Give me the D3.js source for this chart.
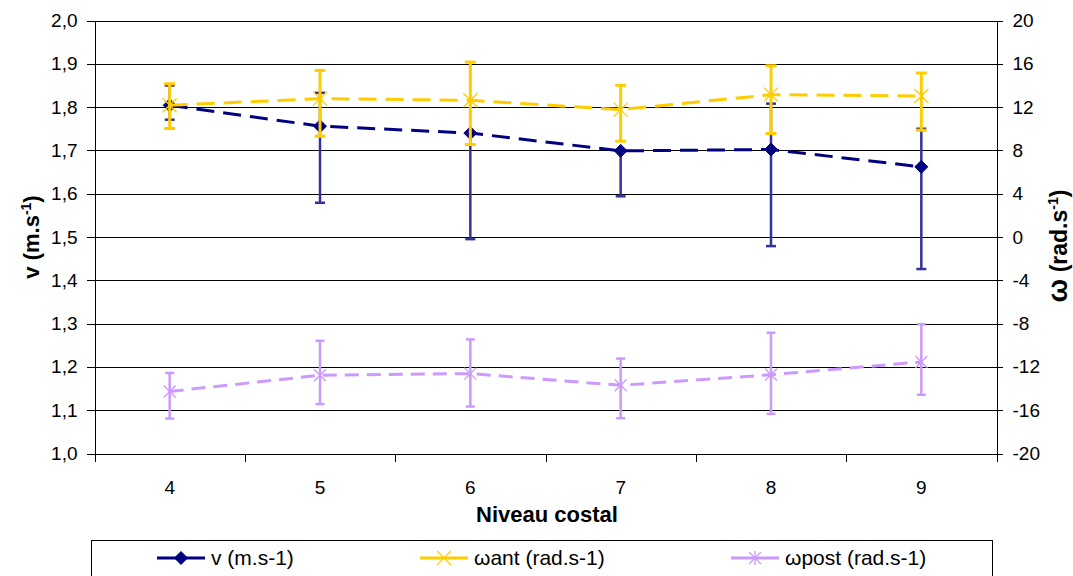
<!DOCTYPE html>
<html>
<head>
<meta charset="utf-8">
<script src="https://cdn.jsdelivr.net/npm/d3@7"></script>
<style>
  html, body { margin: 0; padding: 0; background: #fff; }
  svg { display: block; font-family: "Liberation Sans", Arial, sans-serif; }
</style>
</head>
<body>
<svg id="chart" width="1073" height="576"></svg>
<script>
// ---- data ----
const categories = ["4", "5", "6", "7", "8", "9"];
const vMean = [1.804, 1.756, 1.740, 1.699, 1.702, 1.662];
const vHigh = [1.850, 1.833, 1.740, 1.699, 1.808, 1.750];
const vLow  = [1.771, 1.579, 1.495, 1.594, 1.479, 1.426];
const antMean = [12.17, 12.78, 12.63, 11.77, 13.15, 13.03];
const antHigh = [14.16, 15.39, 16.16, 14.01, 15.82, 15.15];
const antLow  = [10.02, 9.31, 8.54, 8.85, 9.56, 9.86];
const postMean = [-14.27, -12.77, -12.62, -13.70, -12.72, -11.54];
const postHigh = [-12.56, -9.59, -9.46, -11.23, -8.84, -8.06];
const postLow  = [-16.77, -15.44, -15.66, -16.74, -16.34, -14.57];
const leftTicks = [1.0, 1.1, 1.2, 1.3, 1.4, 1.5, 1.6, 1.7, 1.8, 1.9, 2.0];
const rightTicks = [-20, -16, -12, -8, -4, 0, 4, 8, 12, 16, 20];
const legendLabels = ["v (m.s-1)", "\u03c9ant (rad.s-1)", "\u03c9post (rad.s-1)"];

// ---- layout ----
const L = 94.5, R = 996.5, T = 20.5, B = 453.5;
const svg = d3.select("#chart");

const x = d3.scaleBand().domain(categories).range([L, R]).padding(0);
const cx = c => x(c) + x.bandwidth() / 2;
const yL = d3.scaleLinear().domain([1.0, 2.0]).range([B, T]);
const yR = d3.scaleLinear().domain([-20, 20]).range([B, T]);

// gridlines
svg.append("g").selectAll("line").data(leftTicks.filter(d => d > 1.0)).join("line")
  .attr("x1", L).attr("x2", R)
  .attr("y1", d => Math.round(yL(d)) + 0.5).attr("y2", d => Math.round(yL(d)) + 0.5)
  .attr("stroke", "#000").attr("stroke-width", 1).attr("shape-rendering", "crispEdges");

// left axis
const gL = svg.append("g").attr("transform", `translate(${L},0)`)
  .call(d3.axisLeft(yL).tickValues(leftTicks).tickSize(8).tickPadding(9)
    .tickFormat(d => d3.format(".1f")(d).replace(".", ",")));
// right axis
const gR = svg.append("g").attr("transform", `translate(${R},0)`)
  .call(d3.axisRight(yR).tickValues(rightTicks).tickSize(6).tickPadding(10)
    .tickFormat(d => d < 0 ? "-" + Math.abs(d) : String(d)));
// bottom axis (labels)
const gB = svg.append("g").attr("transform", `translate(0,${B})`)
  .call(d3.axisBottom(x).tickSize(0).tickPadding(27));
[gL, gR, gB].forEach(g => {
  g.select(".domain").attr("stroke", "#000").attr("shape-rendering", "crispEdges");
  g.selectAll(".tick line").attr("stroke", "#000").attr("shape-rendering", "crispEdges");
  g.selectAll("text").attr("font-size", 19).attr("fill", "#000")
    .attr("font-family", "'Liberation Sans', Arial, sans-serif");
});
gB.select(".domain").attr("d", `M${L - 8},0.5H${R}`);
// category boundary ticks
const bounds = categories.map(c => x(c)).concat([R]);
svg.append("g").selectAll("line").data(bounds).join("line")
  .attr("x1", d => Math.round(d) + 0.5).attr("x2", d => Math.round(d) + 0.5)
  .attr("y1", B).attr("y2", B + 8).attr("stroke", "#000").attr("shape-rendering", "crispEdges");

// axis titles
svg.append("text").attr("x", 547).attr("y", 522).attr("text-anchor", "middle")
  .attr("font-size", 22).attr("font-weight", "bold").text("Niveau costal");

const tl = svg.append("text").attr("transform", "translate(39,237) rotate(-90)")
  .attr("text-anchor", "middle").attr("font-size", 22).attr("font-weight", "bold");
tl.append("tspan").text("v (m.s");
tl.append("tspan").attr("dy", -8).attr("font-size", 14).text("-1");
tl.append("tspan").attr("dy", 8).text(")");

const tr = svg.append("text").attr("transform", "translate(1067,246) rotate(-90)")
  .attr("text-anchor", "middle").attr("font-size", 23).attr("font-weight", "bold");
tr.append("tspan").attr("font-size", 28).text("\u03c9");
tr.append("tspan").text(" (rad.s");
tr.append("tspan").attr("dy", -9).attr("font-size", 14).text("-1");
tr.append("tspan").attr("dy", 9).text(")");

// ---- series ----
const diamond = "M0,-6.5L6.5,0L0,6.5L-6.5,0Z";
const xMark = "M-7,-7L7,7M-7,7L7,-7";
const star = "M-6,-6L6,6M-6,6L6,-6M0,-7L0,7";

function series(mean, hi, lo, y, opts) {
  const g = svg.append("g");
  const data = categories.map((c, i) => ({c, m: mean[i], h: hi[i], l: lo[i]}));
  // error bars
  const eb = g.append("g").attr("stroke", opts.errColor).attr("stroke-width", opts.errWidth);
  eb.selectAll("line.v").data(data).join("line").attr("class", "v")
    .attr("x1", d => cx(d.c)).attr("x2", d => cx(d.c))
    .attr("y1", d => y(d.h)).attr("y2", d => y(d.l));
  eb.selectAll("line.h").data(data.filter(d => d.h !== d.m)).join("line").attr("class", "h")
    .attr("x1", d => cx(d.c) - opts.cap).attr("x2", d => cx(d.c) + opts.cap)
    .attr("y1", d => y(d.h)).attr("y2", d => y(d.h));
  eb.selectAll("line.l").data(data).join("line").attr("class", "l")
    .attr("x1", d => cx(d.c) - opts.cap).attr("x2", d => cx(d.c) + opts.cap)
    .attr("y1", d => y(d.l)).attr("y2", d => y(d.l));
  // line
  g.append("path").datum(data)
    .attr("d", d3.line().x(d => cx(d.c)).y(d => y(d.m)))
    .attr("fill", "none").attr("stroke", opts.color).attr("stroke-width", 3)
    .attr("stroke-dasharray", opts.dash);
  // markers
  g.selectAll("path.mk").data(data).join("path").attr("class", "mk")
    .attr("transform", d => `translate(${cx(d.c)},${y(d.m)})`)
    .attr("d", opts.marker)
    .attr("fill", opts.fill ? opts.color : "none")
    .attr("stroke", opts.color).attr("stroke-width", opts.fill ? 1 : 1.3);
}

series(vMean, vHigh, vLow, yL, {color: "#000080", errColor: "#333399", errWidth: 2.5, cap: 5,
  dash: "18,9", marker: diamond, fill: true});
series(antMean, antHigh, antLow, yR, {color: "#FFCC00", errColor: "#FFCC00", errWidth: 3, cap: 5.5,
  dash: "18,9", marker: xMark, fill: false});
series(postMean, postHigh, postLow, yR, {color: "#CC99FF", errColor: "#CC99FF", errWidth: 2.5, cap: 4.5,
  dash: "14,8", marker: star, fill: false});

// ---- legend ----
svg.append("rect").attr("x", 91.5).attr("y", 540.5).attr("width", 901).attr("height", 60)
  .attr("fill", "#fff").attr("stroke", "#000").attr("stroke-width", 1);
const legItems = [
  {x: 181, color: "#000080", marker: diamond, fill: true},
  {x: 444, color: "#FFCC00", marker: xMark, fill: false},
  {x: 755, color: "#CC99FF", marker: star, fill: false}
];
const lg = svg.append("g").selectAll("g").data(legItems).join("g")
  .attr("transform", d => `translate(${d.x},558)`);
lg.append("line").attr("x1", -24).attr("x2", 24).attr("stroke", d => d.color).attr("stroke-width", 3);
lg.append("path").attr("d", d => d.marker)
  .attr("fill", d => d.fill ? d.color : "none").attr("stroke", d => d.color)
  .attr("stroke-width", d => d.fill ? 1 : 1.3);
lg.append("text").attr("x", 30).attr("dy", "0.35em").attr("font-size", 21)
  .text((d, i) => legendLabels[i]);
</script>
</body>
</html>
